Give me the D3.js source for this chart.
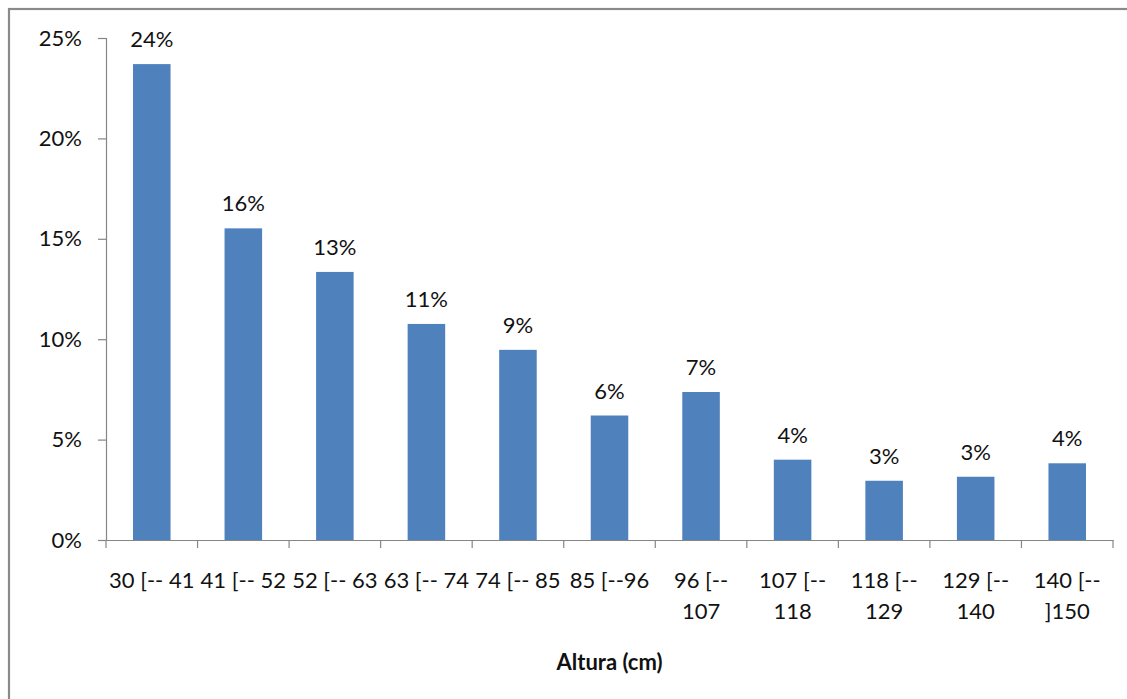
<!DOCTYPE html>
<html>
<head>
<meta charset="utf-8">
<script src="https://cdn.jsdelivr.net/npm/d3@7"></script>
<style>
  html, body { margin: 0; padding: 0; background: #fff; }
  svg { display: block; font-family: Lato, "Open Sans", sans-serif; }
</style>
</head>
<body>
<svg id="chart" width="1127" height="699"></svg>
<script>
const categories = ["30 [-- 41", "41 [-- 52", "52 [-- 63", "63 [-- 74", "74 [-- 85", "85 [--96",
                    "96 [--|107", "107 [--|118", "118 [--|129", "129 [--|140", "140 [--|]150"];
const values = [0.237, 0.1552, 0.1335, 0.1076, 0.0947, 0.062, 0.0737, 0.040, 0.0295, 0.0315, 0.0382];
const yTicks = [0, 0.05, 0.10, 0.15, 0.20, 0.25];
const xTitle = "Altura (cm)";

(function () {
const svg = d3.select("#chart");
svg.append("rect").attr("width", 1127).attr("height", 699).attr("fill", "#fff");
// outer frame
svg.append("rect").attr("x", 9).attr("y", 9).attr("width", 1300).attr("height", 900)
  .attr("fill", "none").attr("stroke", "#8a8a8a").attr("stroke-width", 2.2);

const pLeft = 106, pRight = 1113, pTop = 38, pBottom = 540;
const x = d3.scaleBand().domain(categories).range([pLeft, pRight]).paddingInner(0.59).paddingOuter(0.295);
const y = d3.scaleLinear().domain([0, 0.25]).range([pBottom, pTop]);
const pct = d3.format(".0%");
const axisColor = "#868686";
const fontSize = 22;

// y axis
const yAxis = svg.append("g").attr("transform", `translate(${pLeft},0)`)
  .call(d3.axisLeft(y).tickValues(yTicks).tickFormat(pct).tickSize(8).tickPadding(16));
yAxis.select(".domain").attr("stroke", axisColor).attr("stroke-width", 1.2);
yAxis.selectAll(".tick line").attr("stroke", axisColor).attr("stroke-width", 1.2);
yAxis.selectAll(".tick text").attr("font-size", fontSize).attr("fill", "#111")
  .attr("font-family", "Lato, sans-serif");

// bars
svg.append("g").selectAll("rect").data(values).join("rect")
  .attr("x", (d, i) => x(categories[i]))
  .attr("y", d => y(d))
  .attr("width", x.bandwidth())
  .attr("height", d => y(0) - y(d))
  .attr("fill", "#4F81BD");

// x axis line and boundary ticks
const xAxis = svg.append("g").attr("transform", `translate(0,${pBottom})`)
  .call(d3.axisBottom(x).tickSize(0).tickFormat(""));
xAxis.select(".domain").attr("stroke", axisColor).attr("stroke-width", 1.2);
const step = x.step();
const start = x.range()[0];
const bounds = d3.range(categories.length + 1).map(i => start + i * step);
svg.append("g").selectAll("line").data(bounds).join("line")
  .attr("x1", d => d).attr("x2", d => d)
  .attr("y1", pBottom).attr("y2", pBottom + 8)
  .attr("stroke", axisColor).attr("stroke-width", 1.2);

// x labels
const lbl = svg.append("g").attr("font-size", fontSize).attr("fill", "#111").attr("text-anchor", "middle");
categories.forEach(c => {
  const lines = c.split("|");
  const cx = x(c) + x.bandwidth() / 2;
  const t = lbl.append("text").attr("x", cx).attr("y", 588);
  lines.forEach((ln, j) => {
    t.append("tspan").attr("x", cx).attr("y", 588 + j * 31).text(ln);
  });
});

// data labels
svg.append("g").selectAll("text").data(values).join("text")
  .attr("x", (d, i) => x(categories[i]) + x.bandwidth() / 2)
  .attr("y", d => y(d) - 17)
  .attr("text-anchor", "middle")
  .attr("font-size", fontSize).attr("fill", "#111")
  .text(d => pct(d));

// axis title
svg.append("text").attr("x", (pLeft + pRight) / 2).attr("y", 670)
  .attr("text-anchor", "middle").attr("font-size", fontSize).attr("font-weight", "bold")
  .attr("fill", "#111").text(xTitle);
})();
</script>
</body>
</html>
